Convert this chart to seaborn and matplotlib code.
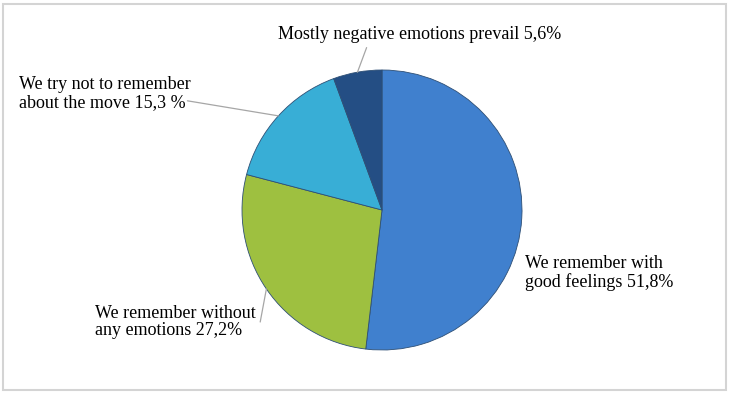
"""Pie chart: memories about the move"""
import matplotlib
matplotlib.use('Agg')
import matplotlib.pyplot as plt
import seaborn as sns
import numpy as np

sns.set_theme(style="white")
plt.rcParams["font.family"] = ["Liberation Serif", "DejaVu Serif"]

# data (clockwise from the top)
labels = [
    "We remember with\ngood feelings 51,8%",
    "We remember without\nany emotions 27,2%",
    "We try not to remember\nabout the move 15,3 %",
    "Mostly negative emotions prevail 5,6%",
]
values = [51.8, 27.2, 15.3, 5.6]
colors = ["#4080CE", "#9EC040", "#38AED6", "#244E84"]

# label placement (in pie radii), and where the leader line ends (None = no line)
label_pos = [(1.02, -0.45), (-2.05, -0.80), (-2.59, 0.83), (-0.74, 1.25)]
line_end = [None, (-0.87, -0.80), (-1.39, 0.78), (-0.11, 1.16)]

fig = plt.figure(figsize=(7.3, 3.93), dpi=100)
ax = fig.add_axes([242 / 730, 43 / 393, 280 / 730, 280 / 393])

wedges, _ = ax.pie(values, colors=colors, startangle=90, counterclock=False,
                   radius=1, wedgeprops=dict(edgecolor="#2E4F75", linewidth=0.6))
ax.set_xlim(-1, 1)
ax.set_ylim(-1, 1)
ax.set_aspect("equal")
ax.axis("off")

for w, lab, pos, end in zip(wedges, labels, label_pos, line_end):
    ax.text(pos[0], pos[1], lab, ha="left", va="center", fontsize=13,
            color="black", linespacing=1.05, clip_on=False)
    if end is not None:
        ang = np.deg2rad((w.theta1 + w.theta2) / 2)
        ax.annotate("", xy=(np.cos(ang), np.sin(ang)), xytext=end,
                    annotation_clip=False,
                    arrowprops=dict(arrowstyle="-", color="#A6A6A6", lw=0.9,
                                    shrinkA=0, shrinkB=0))

# light frame around the picture
fig.add_artist(plt.Rectangle((3 / 730, 3 / 393), 723 / 730, 386 / 393,
                             transform=fig.transFigure, fill=False,
                             edgecolor="#D4D4D4", linewidth=1.5))

fig.savefig("out.png", dpi=100)
plt.close(fig)
